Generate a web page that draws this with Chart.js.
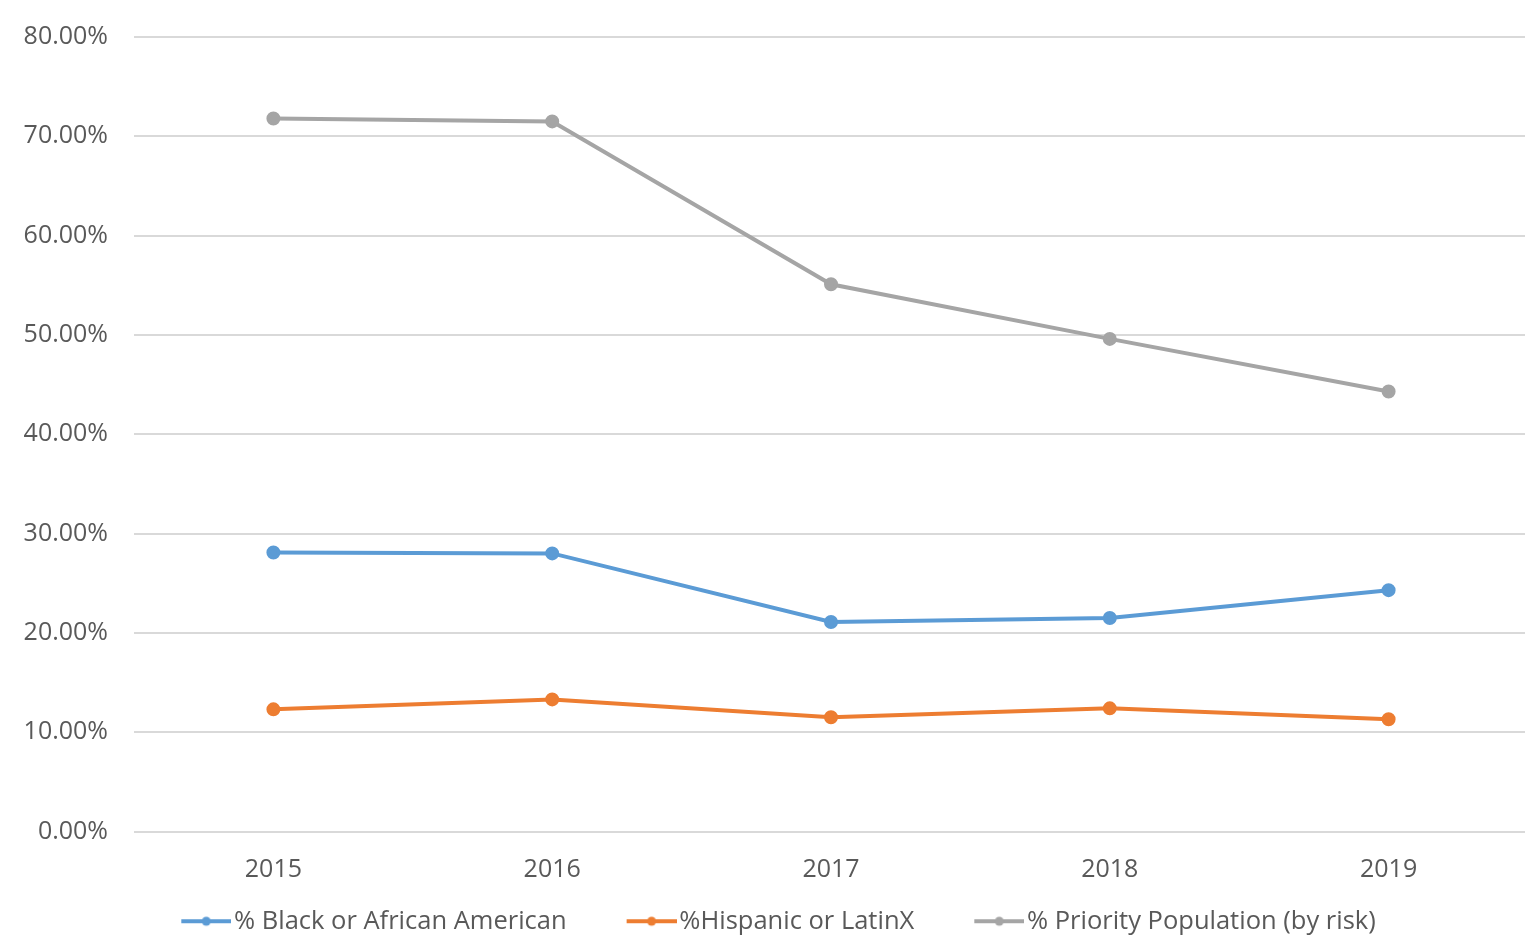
<!DOCTYPE html>
<html>
<head>
<meta charset="utf-8">
<script src="https://cdn.jsdelivr.net/npm/chart.js@4"></script>
<style>
  html, body { margin: 0; padding: 0; background: #fff; overflow: hidden; }
  #wrap { position: relative; width: 1537px; height: 944px; }
</style>
</head>
<body>
<div id="wrap"><canvas id="chart"></canvas></div>
<script>
const years = ["2015", "2016", "2017", "2018", "2019"]
const blackPct = [28.1, 28.0, 21.1, 21.5, 24.3]
const hispanicPct = [12.3, 13.3, 11.5, 12.4, 11.3]
const priorityPct = [71.8, 71.5, 55.1, 49.6, 44.3]
const seriesNames = ["% Black or African American", "%Hispanic or LatinX", "% Priority Population (by risk)"]
const seriesColors = ["#5b9bd5", "#ed7d31", "#a5a5a5"]

const FONT = "'Open Sans', 'DejaVu Sans', sans-serif"
const TEXT = "#595959"
const MARK_W = 92 // legend box incl. blank lead-in used as item spacing
const MARK_OVER = 10 // marker image spills past the box so the line sits close to the text

// legend marker: short line with a dot, like the spreadsheet legend
function legendMarker(color) {
  const w = MARK_W + MARK_OVER * 2
  const c = document.createElement("canvas")
  c.width = w
  c.height = 12
  const ctx = c.getContext("2d")
  ctx.strokeStyle = color
  ctx.lineWidth = 4
  ctx.beginPath()
  ctx.moveTo(w - 50, 6)
  ctx.lineTo(w, 6)
  ctx.stroke()
  ctx.fillStyle = color
  ctx.beginPath()
  ctx.arc(w - 25, 6, 4.5, 0, Math.PI * 2)
  ctx.fill()
  return c
}

const allSeries = [blackPct, hispanicPct, priorityPct]
const datasets = allSeries.map((vals, i) => ({
  label: seriesNames[i],
  data: vals,
  borderColor: seriesColors[i],
  backgroundColor: seriesColors[i],
  borderWidth: 4,
  pointRadius: 5,
  pointHoverRadius: 5,
  pointStyle: "circle",
  tension: 0,
}))
const legendImgs = seriesColors.map(legendMarker)

// nudge the legend row left a little, the source legend is not centred exactly
const legendShift = {
  id: "legendShift",
  afterLayout(chart) {
    chart.legend.left -= 16
    chart.legend.right -= 16
  },
}

new Chart(document.getElementById("chart"), {
  type: "line",
  data: { labels: years, datasets },
  plugins: [legendShift],
  options: {
    responsive: true,
    maintainAspectRatio: false,
    animation: false,
    layout: { padding: { top: 37, right: 0, left: 0, bottom: 0 } },
    plugins: {
      tooltip: { enabled: false },
      legend: {
        position: "bottom",
        labels: {
          color: TEXT,
          font: { family: FONT, size: 25.5 },
          usePointStyle: true,
          pointStyleWidth: MARK_W,
          padding: 8,
          generateLabels: (chart) =>
            chart.data.datasets.map((d, i) => ({
              text: d.label,
              fontColor: TEXT,
              pointStyle: legendImgs[i],
              datasetIndex: i,
              lineWidth: 0,
              hidden: false,
            })),
        },
      },
    },
    scales: {
      x: {
        offset: true,
        grid: { display: false, drawTicks: false },
        border: { display: false },
        ticks: { color: TEXT, font: { family: FONT, size: 25 }, padding: 23 },
        afterFit: (s) => { s.height = 69 },
      },
      y: {
        min: 0,
        max: 80,
        grid: { color: "#d9d9d9", lineWidth: 2, drawTicks: false },
        border: { display: false },
        ticks: {
          stepSize: 10,
          color: TEXT,
          font: { family: FONT, size: 25 },
          padding: 26,
          callback: (v) => v.toFixed(2) + "%",
        },
        afterFit: (s) => {
          s.width = 134
          s.paddingTop = 0
          s.paddingBottom = 0
        },
      },
    },
  },
})
</script>
</body>
</html>
